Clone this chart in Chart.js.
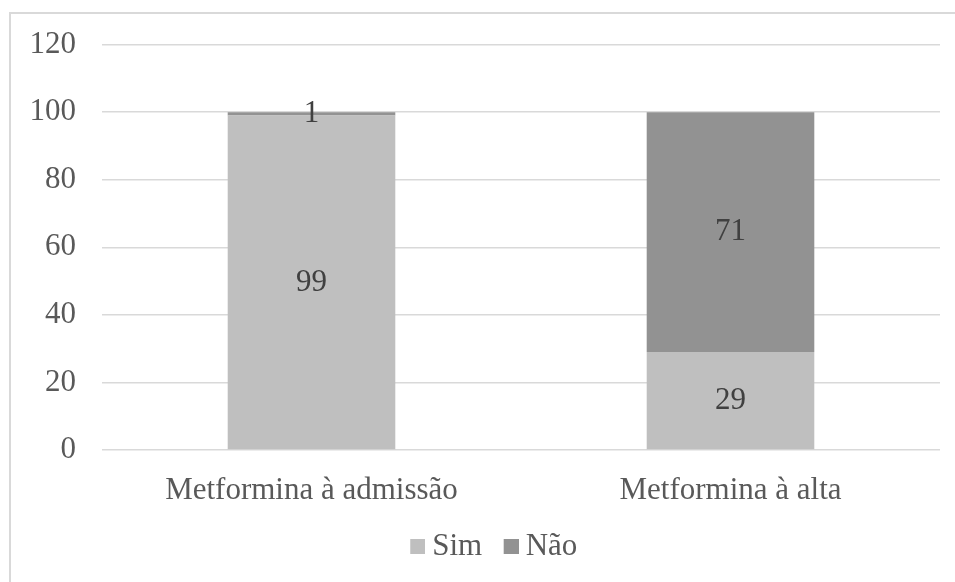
<!DOCTYPE html>
<html>
<head>
<meta charset="utf-8">
<script src="https://cdn.jsdelivr.net/npm/chart.js@4/dist/chart.umd.min.js"></script>
<style>
  html, body { margin: 0; padding: 0; background: #ffffff; overflow: hidden; }
  #wrap { position: relative; width: 955px; height: 582px; }
  #frame {
    position: absolute; left: 9px; top: 12px; width: 960px; height: 600px;
    border-left: 2px solid #d9d9d9; border-top: 2px solid #d9d9d9;
    pointer-events: none;
  }
  canvas { position: absolute; left: 0; top: 0; }
</style>
</head>
<body>
<div id="wrap">
  <canvas id="chart" width="955" height="582"></canvas>
  <div id="frame"></div>
</div>
<script>
// Categories and stacked percentages
const categories = ['Metformina à admissão', 'Metformina à alta'];
const seriesNames = ['Sim', 'Não'];
const simValues = [99, 29];
const naoValues = [1, 71];
const seriesColors = ['#bfbfbf', '#929292'];

const FONT = '"Liberation Serif", "Times New Roman", serif';
const FONT_SIZE = 31;

// Legend swatch: a 15px square sitting at the right end of a wider transparent tile,
// so the square hugs its label and leaves room before it
const SWATCH_SLOT = 18;
function makeSwatch(color) {
  const c = document.createElement('canvas');
  c.width = SWATCH_SLOT + 17;
  c.height = 15;
  const g = c.getContext('2d');
  g.fillStyle = color;
  g.fillRect(c.width - 15, 0, 15, 15);
  return c;
}
const swatches = seriesColors.map(makeSwatch);

// Writes each segment's value in the middle of its bar segment
const segmentLabels = {
  id: 'segmentLabels',
  afterDatasetsDraw(chart) {
    const ctx = chart.ctx;
    ctx.save();
    ctx.font = FONT_SIZE + 'px ' + FONT;
    ctx.fillStyle = '#404040';
    ctx.textAlign = 'center';
    ctx.textBaseline = 'middle';
    chart.data.datasets.forEach((ds, di) => {
      const meta = chart.getDatasetMeta(di);
      meta.data.forEach((bar, i) => {
        const p = bar.getProps(['x', 'y', 'base'], true);
        ctx.fillText(String(ds.data[i]), p.x, (p.y + p.base) / 2);
      });
    });
    ctx.restore();
  }
};

// Nudges the legend row to the right of the canvas centre
const legendOffset = {
  id: 'legendOffset',
  afterLayout(chart) {
    const lg = chart.legend;
    if (lg) { lg.left += 18; lg.right += 18; }
  }
};

new Chart(document.getElementById('chart'), {
  type: 'bar',
  data: {
    labels: categories,
    datasets: [
      { label: seriesNames[0], data: simValues, backgroundColor: seriesColors[0], borderWidth: 0 },
      { label: seriesNames[1], data: naoValues, backgroundColor: seriesColors[1], borderWidth: 0 }
    ]
  },
  options: {
    responsive: false,
    animation: false,
    devicePixelRatio: 1,
    layout: { padding: { top: 43, right: 15, bottom: 10, left: 0 } },
    datasets: { bar: { barPercentage: 0.4, categoryPercentage: 1.0 } },
    scales: {
      x: {
        stacked: true,
        grid: { display: false },
        border: { display: false },
        ticks: { color: '#595959', font: { family: FONT, size: FONT_SIZE }, padding: 14, maxRotation: 0 },
        afterFit(scale) { scale.height = 71; }
      },
      y: {
        stacked: true,
        min: 0, max: 120,
        grid: { color: '#d9d9d9', lineWidth: 1.5, drawTicks: false },
        border: { display: false },
        ticks: { stepSize: 20, color: '#595959', font: { family: FONT, size: FONT_SIZE }, padding: 26 },
        afterFit(scale) { scale.width = 102; }
      }
    },
    plugins: {
      legend: {
        position: 'bottom',
        labels: {
          color: '#595959',
          font: { family: FONT, size: FONT_SIZE },
          usePointStyle: true,
          pointStyleWidth: SWATCH_SLOT,
          boxHeight: 15,
          padding: 10,
          generateLabels(chart) {
            const items = Chart.defaults.plugins.legend.labels.generateLabels(chart);
            items.forEach((it, i) => { it.pointStyle = swatches[i]; });
            return items;
          }
        }
      },
      tooltip: { enabled: false }
    }
  },
  plugins: [segmentLabels, legendOffset]
});
</script>
</body>
</html>
